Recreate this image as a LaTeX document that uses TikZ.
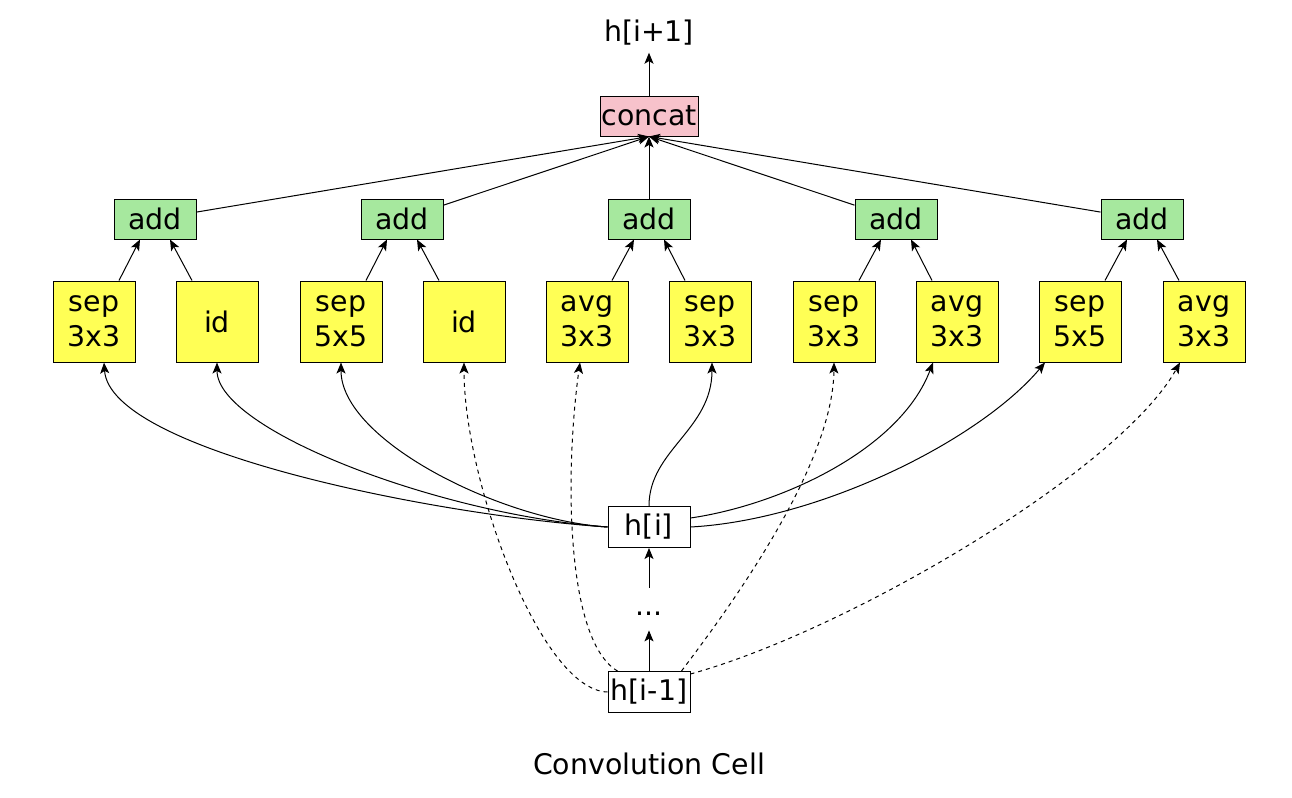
\documentclass[tikz,border=0pt]{standalone}
\usepackage{fontspec}
\setmainfont{DejaVu Sans}
\usetikzlibrary{arrows.meta}
\definecolor{addgreen}{HTML}{A6E89E}
\definecolor{opyellow}{HTML}{FFFF55}
\definecolor{catpink}{HTML}{F7C2CB}
\tikzset{
  op_box/.style={draw=black,fill=opyellow,line width=0.5pt,inner sep=0pt,
    minimum width=41pt,minimum height=40.5pt,align=center},
  add_box/.style={draw=black,fill=addgreen,line width=0.5pt,inner sep=0pt,
    minimum width=41pt,minimum height=20pt},
  cat_box/.style={draw=black,fill=catpink,line width=0.5pt,inner sep=0pt,
    minimum width=49pt,minimum height=20pt},
  state_box/.style={draw=black,fill=white,line width=0.5pt,inner sep=0pt,
    minimum width=41pt,minimum height=20.5pt},
  arr/.style={-{Stealth[length=5.5pt,width=4.5pt,inset=1.3pt]},line width=0.5pt},
  arr_d/.style={arr,dash pattern=on 2pt off 2pt},
}

\begin{document}
\begin{tikzpicture}[x=0.5pt,y=-0.5pt,every node/.style={font=\fontsize{14.2}{17.5}\selectfont}]
  \useasboundingbox (0,0) rectangle (1292,798);
  % output and concat
  \node (out) at (649,33) {h[i+1]};
  \node[cat_box] (cat) at (649,116) {concat};
  \draw[arr] (cat) -- (out);
  % add nodes
  \foreach \x [count=\i] in {155,402,649,896,1142}
    \node[add_box] (add\i) at (\x,219) {add};
  \foreach \i in {1,...,5}
    \draw[arr] (add\i) -- (cat.south);
  % operations
  \foreach \x/\t [count=\i] in {94/{sep\\3x3},217/id,341/{sep\\5x5},464/id,587/{avg\\3x3},
      710/{sep\\3x3},834/{sep\\3x3},957/{avg\\3x3},1080/{sep\\5x5},1204/{avg\\3x3}}
    \node[op_box] (op\i) at (\x,321.5) {\t};
  \foreach \i/\l/\r in {1/1/2,2/3/4,3/5/6,4/7/8,5/9/10} {
    \draw[arr] ([xshift=12.5pt]op\l.north) -- ([xshift=-7.5pt]add\i.south);
    \draw[arr] ([xshift=-12.5pt]op\r.north) -- ([xshift=7.5pt]add\i.south);
  }
  % hidden states
  \node[state_box] (hi) at (649,527) {h[i]};
  \node[inner sep=0pt,minimum height=21pt] (dots) at (649,609) {\raisebox{-3pt}[0pt][0pt]{...}};
  \node[state_box] (hm) at (649,692) {h[i-1]};
  \draw[arr] (dots) -- (hi);
  \draw[arr] (hm) -- (dots);
  % inputs from h[i]
  \draw[arr] (hi.west) .. controls (430,515) and (110,450) .. ([xshift=5pt]op1.south);
  \draw[arr] (hi.west) .. controls (440,515) and (217,430) .. (op2.south);
  \draw[arr] (hi.west) .. controls (500,520) and (341,440) .. (op3.south);
  \draw[arr] (hi.north) .. controls (649,450) and (712,430) .. ([xshift=1pt]op6.south);
  \draw[arr] ([yshift=4.5pt]hi.east) .. controls (780,505) and (900,450) .. ([xshift=-12pt]op8.south);
  \draw[arr] (hi.east) .. controls (820,520) and (980,440) .. ([xshift=-17.5pt]op9.south);
  % inputs from h[i-1]
  \draw[arr_d] (hm.west) .. controls (540,690) and (464,480) .. (op4.south);
  \draw[arr_d] ([xshift=5pt]hm.north west) .. controls (565,640) and (565,470) .. ([xshift=-3.5pt]op5.south);
  \draw[arr_d] ([xshift=-4.5pt]hm.north east) .. controls (720,620) and (833,470) .. (op7.south);
  \draw[arr_d] ([yshift=-1.5pt]hm.north east) .. controls (850,630) and (1120,470) .. ([xshift=-12pt]op10.south);
  % caption
  \node (title) at (649,764) {Convolution Cell};
\end{tikzpicture}
\end{document}
